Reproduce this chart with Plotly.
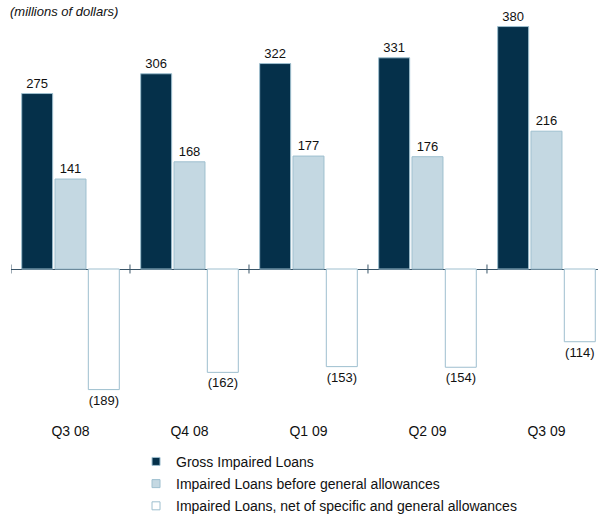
import plotly.graph_objects as go

# Quarterly impaired loans (millions of dollars)
quarters = ["Q3 08", "Q4 08", "Q1 09", "Q2 09", "Q3 09"]
gross_impaired = [275, 306, 322, 331, 380]
before_general = [141, 168, 177, 176, 216]
net_of_allowances = [-189, -162, -153, -154, -114]

series_names = [
    "Gross Impaired Loans",
    "Impaired Loans before general allowances",
    "Impaired Loans, net of specific and general allowances",
]

FONT = "Arial, Liberation Sans, sans-serif"
DARK = "#05304a"
LIGHT = "#c4d8e2"
EDGE = "#9ebfcf"
INK = "#111111"


def fmt(v):
    return f"({abs(v)})" if v < 0 else f"{v}"


fig = go.Figure()
series = [gross_impaired, before_general, net_of_allowances]
fills = [DARK, LIGHT, "#ffffff"]
for k, (name, vals, fill) in enumerate(zip(series_names, series, fills)):
    fig.add_trace(go.Bar(
        name=name,
        x=quarters,
        y=vals,
        text=[fmt(v) for v in vals],
        textposition="outside",
        textfont=dict(family=FONT, size=13, color=INK),
        cliponaxis=False,
        showlegend=False,
        legendgroup=f"g{k}",
        marker=dict(color=fill, line=dict(color=EDGE, width=1)),
    ))
    # small square swatch for the legend entry
    fig.add_trace(go.Scatter(
        name=name,
        x=[None], y=[None],
        mode="markers",
        legendgroup=f"g{k}",
        marker=dict(symbol="square", size=8, color=fill,
                    line=dict(color=EDGE, width=1)),
    ))

# Small tick marks crossing the zero line at the category boundaries
n = len(quarters)
for i in range(n + 1):
    fig.add_shape(type="line", xref="x", yref="y",
                  x0=i - 0.5, x1=i - 0.5, y0=-7, y1=7,
                  line=dict(color="#3a5568", width=1))

fig.update_layout(
    width=599, height=517,
    margin=dict(l=11, r=1, t=21, b=101, autoexpand=False),
    paper_bgcolor="white", plot_bgcolor="white",
    barmode="group", bargap=0.16, bargroupgap=0.07,
    showlegend=True,
    legend=dict(x=0.213, y=-0.0755, xanchor="left", yanchor="top",
                font=dict(family=FONT, size=14, color=INK),
                tracegroupgap=1, itemwidth=30, traceorder="grouped"),
    font=dict(family=FONT, size=13, color=INK),
    xaxis=dict(range=[-0.5, 4.433], showline=False, showgrid=False,
               ticks="", ticklabelstandoff=5,
               tickfont=dict(family=FONT, size=14, color=INK)),
    yaxis=dict(range=[-230.4, 388.7], showgrid=False, showticklabels=False,
               zeroline=True, zerolinecolor="#3a5568", zerolinewidth=1.2),
    annotations=[dict(text="<i>(millions of dollars)</i>", xref="paper", yref="paper",
                      x=-0.005, y=1.0, xanchor="left", yanchor="bottom", yshift=0,
                      showarrow=False, font=dict(family=FONT, size=13, color=INK))],
)

fig.write_html("out.html")
